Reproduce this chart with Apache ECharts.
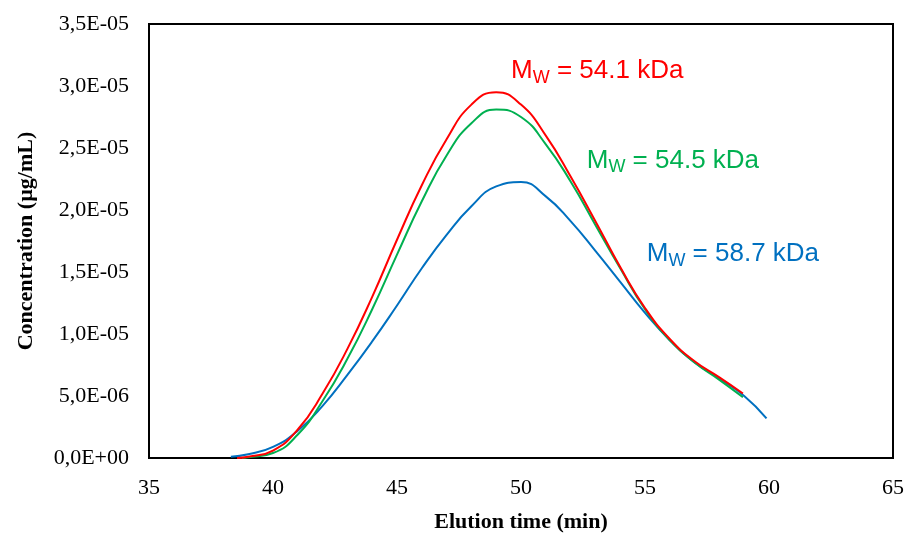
<!DOCTYPE html>
<html>
<head>
<meta charset="utf-8">
<script src="https://cdn.jsdelivr.net/npm/echarts@6/dist/echarts.min.js"></script>
<style>
  html, body { margin: 0; padding: 0; background: #fff; }
  #chart { width: 911px; height: 538px; }
</style>
</head>
<body>
<div id="chart"></div>
<script>
// elution time (min) / concentration (µg/mL)
const redData = [
  [38.55, 0], [39, 0.01e-5], [40, 0.06e-5], [41, 0.23e-5], [42, 0.52e-5],
  [43, 0.88e-5], [44, 1.3e-5], [45, 1.76e-5], [46, 2.2e-5], [47, 2.57e-5],
  [48, 2.85e-5], [49, 2.95e-5], [50, 2.85e-5], [51, 2.6e-5], [52, 2.27e-5],
  [53, 1.91e-5], [54, 1.54e-5], [55, 1.21e-5], [56, 0.96e-5], [57, 0.78e-5],
  [58, 0.65e-5], [58.95, 0.52e-5]
]
const greenData = [
  [38.75, 0], [39, 0.005e-5], [40, 0.04e-5], [41, 0.19e-5], [42, 0.46e-5],
  [43, 0.8e-5], [44, 1.2e-5], [45, 1.64e-5], [46, 2.07e-5], [47, 2.44e-5],
  [48, 2.7e-5], [49, 2.81e-5], [50, 2.75e-5], [51, 2.53e-5], [52, 2.23e-5],
  [53, 1.88e-5], [54, 1.53e-5], [55, 1.2e-5], [56, 0.95e-5], [57, 0.77e-5],
  [58, 0.63e-5], [58.95, 0.49e-5]
]
const blueData = [
  [38.3, 0.01e-5], [39, 0.03e-5], [40, 0.09e-5], [41, 0.22e-5], [42, 0.42e-5],
  [43, 0.67e-5], [44, 0.94e-5], [45, 1.23e-5], [46, 1.53e-5], [47, 1.8e-5],
  [48, 2.03e-5], [49, 2.19e-5], [50, 2.225e-5], [51, 2.11e-5], [52, 1.91e-5],
  [53, 1.67e-5], [54, 1.42e-5], [55, 1.17e-5], [56, 0.95e-5], [57, 0.77e-5],
  [58, 0.64e-5], [59, 0.5e-5], [59.9, 0.32e-5]
]

const seriesNames = ['54.1 kDa', '54.5 kDa', '58.7 kDa']
const seriesColors = ['#ff0000', '#00b050', '#0070c0']
// where each Mw label sits (data coords: time, concentration)
const labelAnchors = [[49.6, 3.12e-5], [52.65, 2.40e-5], [55.07, 1.645e-5]]

// 3.5e-5 -> "3,5E-05"
function sciLabel(v) {
  const s = v.toExponential(1)
  let [m, e] = s.split('e')
  const sign = e[0] === '-' ? '-' : '+'
  e = e.replace(/[+-]/, '').padStart(2, '0')
  return m.replace('.', ',') + 'E' + sign + e
}

const chart = echarts.init(document.getElementById('chart'))

const serif = 'Liberation Serif'

function makeSeries(i, data) {
  return {
    name: seriesNames[i],
    type: 'line',
    data: data,
    smooth: 0.5,
    showSymbol: false,
    lineStyle: { color: seriesColors[i], width: 2 },
    itemStyle: { color: seriesColors[i] },
    animation: false,
    markPoint: {
      symbol: 'circle',
      symbolSize: 0,
      data: [{ coord: labelAnchors[i] }],
      label: {
        show: true,
        position: 'right',
        distance: 0,
        formatter: '{m|M}{w|W}{m| = ' + seriesNames[i] + '}',
        rich: {
          m: { fontFamily: 'Liberation Sans', fontSize: 26, color: seriesColors[i], lineHeight: 32 },
          w: { fontFamily: 'Liberation Sans', fontSize: 18, color: seriesColors[i], lineHeight: 32, verticalAlign: 'bottom', padding: [10, 0, 0, 0] }
        }
      }
    }
  }
}

chart.setOption({
  animation: false,
  grid: {
    left: 149,
    right: 18,
    top: 24,
    bottom: 80,
    outerBoundsMode: 'none',
    containLabel: false,
    show: true,
    borderColor: '#000',
    borderWidth: 2
  },
  xAxis: {
    type: 'value',
    min: 35,
    max: 65,
    interval: 5,
    name: 'Elution time (min)',
    nameLocation: 'middle',
    nameGap: 53,
    nameTextStyle: { fontFamily: serif, fontWeight: 'bold', fontSize: 22, color: '#000' },
    axisLine: { lineStyle: { color: '#000', width: 2 } },
    axisTick: { show: false },
    splitLine: { show: false },
    axisLabel: { fontFamily: serif, fontSize: 22, color: '#000', margin: 19 }
  },
  yAxis: {
    type: 'value',
    min: 0,
    max: 3.5e-5,
    interval: 0.5e-5,
    name: 'Concentration (µg/mL)',
    nameLocation: 'middle',
    nameGap: 112,
    nameTextStyle: { fontFamily: serif, fontWeight: 'bold', fontSize: 22, color: '#000' },
    axisLine: { show: true, lineStyle: { color: '#000', width: 2 } },
    axisTick: { show: false },
    splitLine: { show: false },
    axisLabel: { fontFamily: serif, fontSize: 22, color: '#000', margin: 20, formatter: sciLabel }
  },
  series: [
    makeSeries(2, blueData),
    makeSeries(1, greenData),
    makeSeries(0, redData)
  ]
})
</script>
</body>
</html>
